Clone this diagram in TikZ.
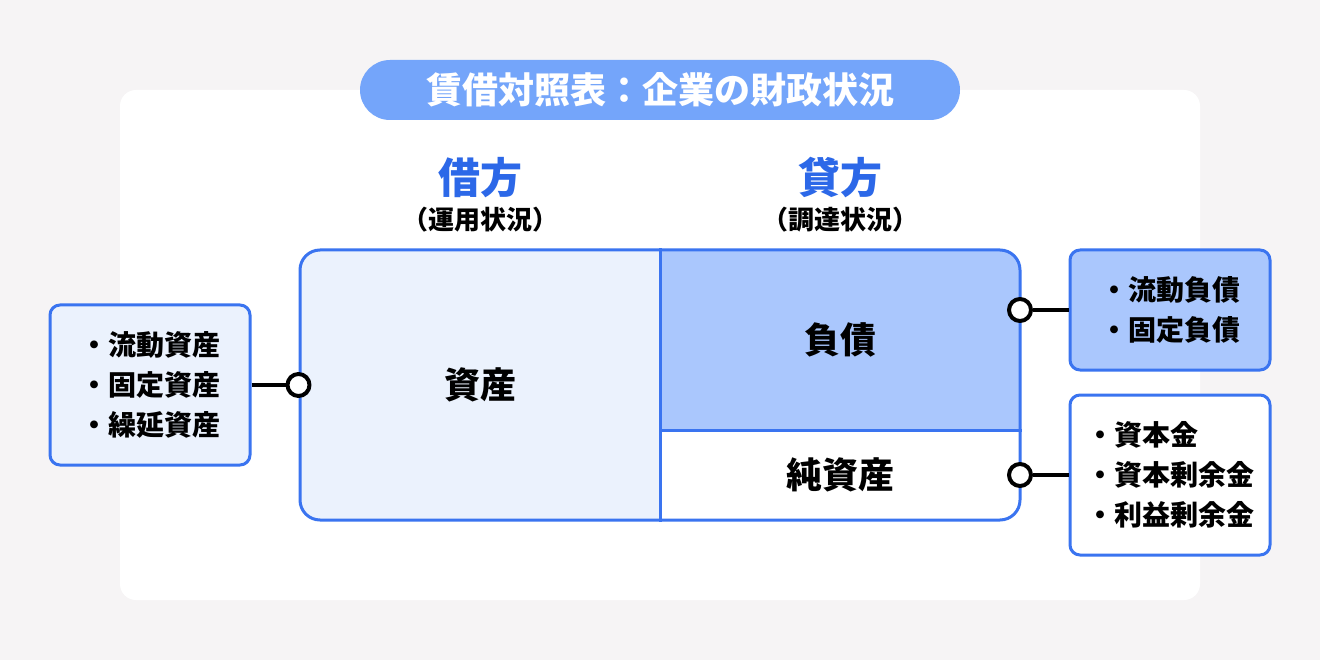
\documentclass[tikz,border=0pt]{standalone}
\usepackage{fontspec}
\setmainfont{Noto Sans CJK JP}
\usetikzlibrary{positioning}
\definecolor{bggray}{HTML}{F6F4F5}
\definecolor{bsblue}{HTML}{3A74F0}
\definecolor{headblue}{HTML}{2C68E8}
\definecolor{pillblue}{HTML}{74A5FA}
\definecolor{lightfill}{HTML}{EBF2FD}
\definecolor{midfill}{HTML}{AAC7FD}
\tikzset{
  listbox/.style={draw=bsblue, line width=3pt, rounded corners=10pt, minimum width=200pt, inner sep=0pt, align=left, font=\fontsize{28}{40}\selectfont\bfseries},
  joint/.style={circle, draw=black, fill=white, line width=4pt, minimum size=22pt, inner sep=0pt},
  conn/.style={line width=4pt, black},
  head/.style={text=headblue, font=\fontsize{42}{42}\selectfont\bfseries},
  subhead/.style={font=\fontsize{26}{26}\selectfont\bfseries, inner sep=0pt},
  part/.style={font=\fontsize{36}{36}\selectfont\bfseries}
}
\begin{document}
\begin{tikzpicture}[x=1pt, y=-1pt, line join=round]
  \useasboundingbox (0,0) rectangle (1320,660);
  \fill[bggray] (0,0) rectangle (1320,660);
  \fill[white, rounded corners=16pt] (120,90) rectangle (1200,600);
  % title
  \node[fill=pillblue, rounded corners=30pt, minimum width=600pt, minimum height=60pt, text=white, font=\fontsize{36}{36}\selectfont\bfseries] (title) at (660,90) {賃借対照表：企業の財政状況};
  % headings
  \node[head] (kari) at (480,178) {借方};
  \node[subhead, below=5pt of kari] (karisub) {（運用状況）};
  \node[head] (kashi) at (840,178) {貸方};
  \node[subhead, below=5pt of kashi] (kashisub) {（調達状況）};
  % balance sheet
  \begin{scope}
    \clip[rounded corners=20pt] (300,250) rectangle (1020,520);
    \fill[lightfill] (300,250) rectangle (660,520);
    \fill[midfill] (660,250) rectangle (1020,430);
    \fill[white] (660,430) rectangle (1020,520);
  \end{scope}
  \node[draw=bsblue, line width=3pt, rounded corners=20pt, minimum width=720pt, minimum height=270pt] (bs) at (660,385) {};
  \draw[bsblue, line width=3pt] (bs.north) -- (bs.south);
  \draw[bsblue, line width=3pt] (660,430) -- (bs.east |- 0,430);
  \node[part] (shisan) at (480,385) {資産};
  \node[part] (fusai) at (840,340) {負債};
  \node[part] (junshisan) at (840,475) {純資産};
  % lists
  \node[listbox, fill=lightfill, minimum height=160pt] (assets) at (150,385) {・流動資産\\・固定資産\\・繰延資産};
  \node[listbox, fill=midfill, minimum height=120pt] (debts) at (1170,310) {・流動負債\\・固定負債};
  \node[listbox, fill=white, minimum height=160pt] (equity) at (1170,475) {・資本金\\・資本剰余金\\・利益剰余金};
  % joints
  \node[joint] (jasset) at (bs.west) {};
  \node[joint] (jdebt) at (1020,310) {};
  \node[joint] (jequity) at (1020,475) {};
  \draw[conn] (assets.east) -- (jasset);
  \draw[conn] (jdebt) -- (debts.west);
  \draw[conn] (jequity) -- (equity.west);
\end{tikzpicture}
\end{document}
